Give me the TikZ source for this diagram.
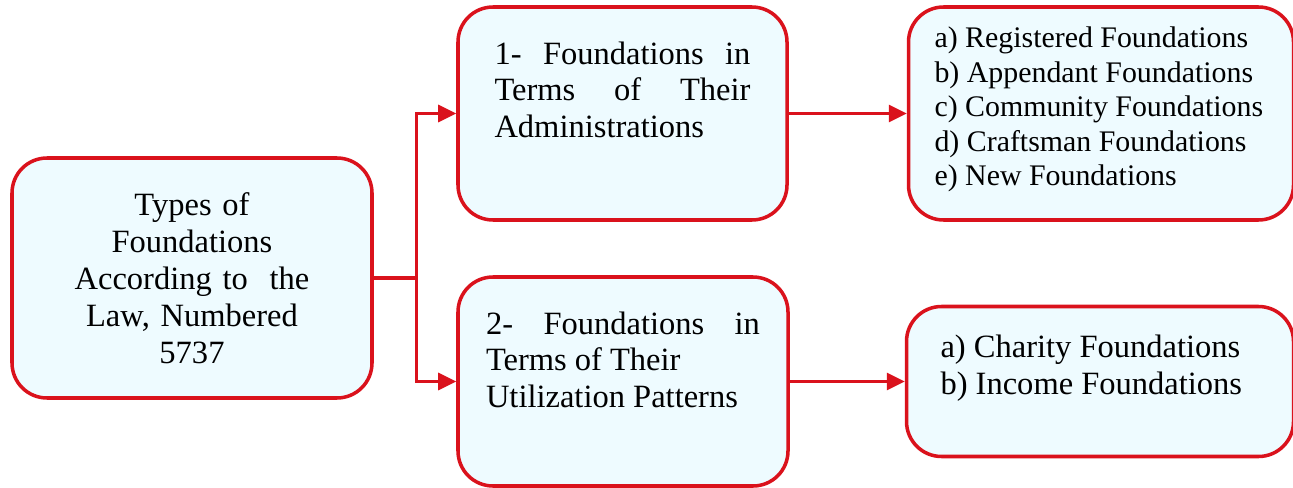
\documentclass[tikz,border=0pt]{standalone}
\usepackage{fontspec}
\setmainfont{Liberation Serif}
\usetikzlibrary{arrows.meta,positioning}
\definecolor{boxred}{RGB}{218,18,28}
\definecolor{boxfill}{RGB}{238,251,255}
% top-aligned text block inside a box
\newcommand{\boxtext}[3]{\parbox[c][#1][t]{#2}{#3}}
\tikzset{
    % box styles
    basebox/.style={
        rectangle, draw=boxred, line width=2pt, fill=boxfill,
        rounded corners=0.7cm,
        font=\fontsize{18.5pt}{21pt}\selectfont
    },
    rootbox/.style={
        basebox, minimum width=7.2cm, minimum height=4.8cm,
        text width=5.4cm, align=center, inner sep=0pt
    },
    groupbox/.style 2 args={basebox, inner xsep=#1, inner ysep=#2},
    listbox/.style 2 args={basebox, inner xsep=#1, inner ysep=#2},
    % connector styles
    link/.style={draw=boxred, line width=1.8pt},
    flow/.style={link, -{Triangle[length=0.36cm,width=0.34cm]}}
}
\begin{document}
\begin{tikzpicture}
\useasboundingbox (0,0) rectangle (25.86,-9.76);

% Root node
\node[rootbox] (types) at (3.84,-5.56)
    {Types of\\ Foundations\\ According to\ \ the\\ Law, Numbered\\ 5737};

% Two groups
\node[groupbox={0.73cm}{0.69cm}] (adm) at (12.45,-2.27)
    {\boxtext{2.88cm}{5.12cm}{1-\hfill Foundations\hfill in\\
     Terms\hfill of\hfill Their\\ Administrations}};
\node[groupbox={0.56cm}{0.69cm}] (util) at (12.46,-7.63)
    {\boxtext{2.8cm}{5.48cm}{2-\hfill Foundations\hfill in\\
     Terms of Their\\ Utilization Patterns}};

% Sub-types of each group
\node[listbox={0.52cm}{0.4cm}, right=2.36cm of adm] (list1)
    {\boxtext{3.46cm}{6.66cm}{\fontsize{17pt}{19.6pt}\selectfont
     a) Registered Foundations\\ b) Appendant Foundations\\
     c) Community Foundations\\ d) Craftsman Foundations\\
     e) New Foundations}};
\node[listbox={0.68cm}{0.57cm}, right=2.3cm of util] (list2)
    {\boxtext{1.86cm}{6.38cm}{a) Charity Foundations\\
     b) Income Foundations}};

% Connectors
\coordinate[right=0.86cm of types.east] (fork);
\draw[link] (types.east) -- (fork);
\draw[flow] (fork) |- (adm.west);
\draw[flow] (fork) |- (util.west);
\draw[flow] (adm) -- (list1);
\draw[flow] (util.east) -- (util.east -| list2.west);

\end{tikzpicture}
\end{document}
